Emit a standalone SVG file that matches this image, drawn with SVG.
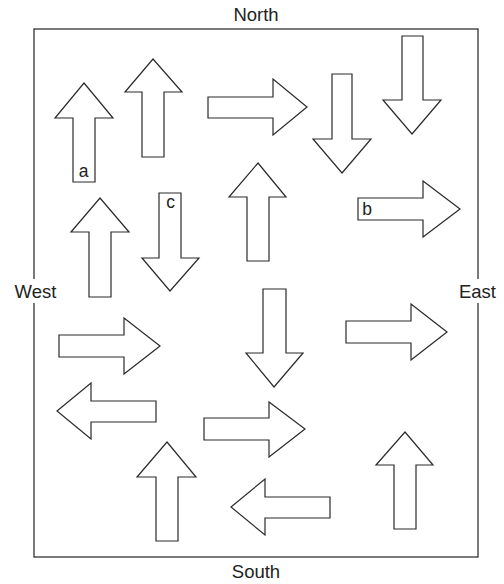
<svg xmlns="http://www.w3.org/2000/svg" width="504" height="584" viewBox="0 0 504 584">
<style>
.arr{fill:#fff;stroke:#2a2a2a;stroke-width:1.2;stroke-linejoin:miter}
.frame{fill:none;stroke:#333;stroke-width:1.3}
.dir{font-family:"Liberation Sans",Arial,sans-serif;font-size:18.5px;fill:#222;text-anchor:middle}
.lbl{font-family:"Liberation Sans",Arial,sans-serif;font-size:17.5px;fill:#222;text-anchor:middle}
</style>
<rect x="0" y="0" width="504" height="584" fill="#fff"/>
<g id="frame">
<rect class="frame" x="34" y="29" width="444" height="528"/>
<rect x="14" y="279" width="43" height="24" fill="#fff"/>
<rect x="457" y="279" width="41" height="24" fill="#fff"/>
</g>
<g id="labels">
<text class="dir" x="256" y="21">North</text>
<text class="dir" x="256" y="578">South</text>
<text class="dir" x="35.5" y="298">West</text>
<text class="dir" x="477.5" y="298">East</text>
</g>
<g id="arrows">
<g id="arrow-a"><polygon class="arr" points="84,83 113,118 95,118 95,182 73,182 73,118 55,118"/><text class="lbl" x="83.5" y="177">a</text></g>
<g id="arrow-2"><polygon class="arr" points="153,59 182,92 164,92 164,157 142,157 142,92 125,92"/></g>
<g id="arrow-3"><polygon class="arr" points="307,107 273,135 273,118 208,118 208,97 273,97 273,79"/></g>
<g id="arrow-4"><polygon class="arr" points="342,173 371,139 352,139 352,74 332,74 332,139 313,139"/></g>
<g id="arrow-5"><polygon class="arr" points="412,134 441,100 423,100 423,36 402,36 402,100 383,100"/></g>
<g id="arrow-6"><polygon class="arr" points="258,163 286,197 269,197 269,261 247,261 247,197 229,197"/></g>
<g id="arrow-7"><polygon class="arr" points="100,198 129,232 111,232 111,297 89,297 89,232 71,232"/></g>
<g id="arrow-c"><polygon class="arr" points="170,291 199,258 181,258 181,193 159,193 159,258 142,258"/><text class="lbl" x="170.5" y="208">c</text></g>
<g id="arrow-b"><polygon class="arr" points="460,209 423,237 423,220 358,220 358,198 423,198 423,181"/><text class="lbl" x="367" y="215">b</text></g>
<g id="arrow-10"><polygon class="arr" points="447,332 411,360 411,343 346,343 346,321 411,321 411,304"/></g>
<g id="arrow-11"><polygon class="arr" points="274,387 303,353 286,353 286,289 263,289 263,353 246,353"/></g>
<g id="arrow-12"><polygon class="arr" points="160,346 124,374 124,357 59,357 59,335 124,335 124,318"/></g>
<g id="arrow-13"><polygon class="arr" points="57,411 91,383 91,401 156,401 156,422 91,422 91,439"/></g>
<g id="arrow-14"><polygon class="arr" points="305,429 269,457 269,440 204,440 204,418 269,418 269,402"/></g>
<g id="arrow-15"><polygon class="arr" points="167,442 196,477 178,477 178,541 156,541 156,477 137,477"/></g>
<g id="arrow-16"><polygon class="arr" points="231,507 265,479 265,497 330,497 330,518 265,518 265,535"/></g>
<g id="arrow-17"><polygon class="arr" points="405,432 433,465 416,465 416,529 394,529 394,465 376,465"/></g>
</g>
<g id="connectors"/>
</svg>
